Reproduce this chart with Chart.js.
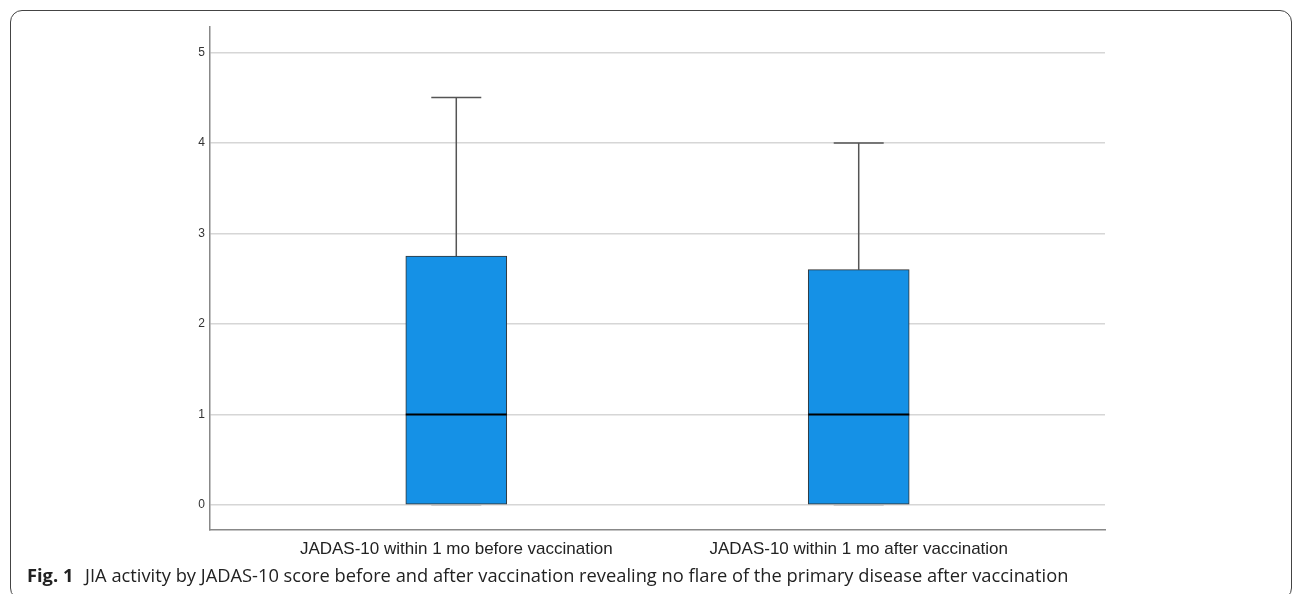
<!DOCTYPE html>
<html><head><meta charset="utf-8">
<script src="https://cdn.jsdelivr.net/npm/chart.js@4.4.0/dist/chart.umd.min.js"></script>
<style>
html,body{margin:0;padding:0;background:#fff;width:1293px;height:594px;overflow:hidden;}
#frame{position:absolute;left:10px;top:10px;width:1282px;height:590px;border:1.5px solid #444;border-radius:12px;box-sizing:border-box;}
#c{position:absolute;left:0;top:0;}
#cap{position:absolute;left:27px;top:566px;font-family:"Open Sans",sans-serif;font-size:18.3px;line-height:18px;color:#222;white-space:nowrap;}
#cap b{font-weight:700;margin-right:7px;}
</style></head>
<body>
<div id="frame"></div>
<canvas id="c" width="1293" height="594"></canvas>
<div id="cap"><b>Fig. 1</b> JIA activity by JADAS-10 score before and after vaccination revealing no flare of the primary disease after vaccination</div>
<script>
const categories = ['JADAS-10 within 1 mo before vaccination', 'JADAS-10 within 1 mo after vaccination'];
const minValues = [0, 0];
const q1Values = [0, 0];
const medianValues = [1, 1];
const q3Values = [2.75, 2.6];
const maxValues = [4.5, 4.0];
const yTicks = [0, 1, 2, 3, 4, 5];

const boxWidthPx = 101;
const capWidthPx = 50;

const whiskerPlugin = {
  id: 'whiskers',
  beforeDatasetsDraw(chart) {
    const {ctx, scales: {x, y}} = chart;
    ctx.save();
    ctx.strokeStyle = '#555';
    ctx.lineWidth = 1.5;
    categories.forEach((c, i) => {
      const px = x.getPixelForValue(i + 1);
      ctx.beginPath();
      ctx.moveTo(px, y.getPixelForValue(maxValues[i]));
      ctx.lineTo(px, y.getPixelForValue(q3Values[i]));
      ctx.moveTo(px, y.getPixelForValue(q1Values[i]));
      ctx.lineTo(px, y.getPixelForValue(minValues[i]));
      ctx.moveTo(px - capWidthPx / 2, y.getPixelForValue(maxValues[i]));
      ctx.lineTo(px + capWidthPx / 2, y.getPixelForValue(maxValues[i]));
      ctx.stroke();
    });
    ctx.restore();
  },
  afterDatasetsDraw(chart) {
    const {ctx, scales: {x, y}} = chart;
    ctx.save();
    categories.forEach((c, i) => {
      const px = x.getPixelForValue(i + 1);
      ctx.strokeStyle = '#aaa';
      ctx.lineWidth = 1;
      ctx.beginPath();
      ctx.moveTo(px - capWidthPx / 2, y.getPixelForValue(minValues[i]));
      ctx.lineTo(px + capWidthPx / 2, y.getPixelForValue(minValues[i]));
      ctx.stroke();
      ctx.strokeStyle = '#000';
      ctx.lineWidth = 2;
      ctx.beginPath();
      ctx.moveTo(px - boxWidthPx / 2, y.getPixelForValue(medianValues[i]));
      ctx.lineTo(px + boxWidthPx / 2, y.getPixelForValue(medianValues[i]));
      ctx.stroke();
    });
    ctx.restore();
  }
};

new Chart(document.getElementById('c'), {
  type: 'bar',
  data: {
    datasets: [{
      data: categories.map((c, i) => ({x: i + 1, y: [q1Values[i], q3Values[i]]})),
      backgroundColor: '#1591e6',
      borderColor: '#333',
      borderWidth: 1,
      borderSkipped: false,
      barThickness: boxWidthPx
    }]
  },
  plugins: [whiskerPlugin],
  options: {
    responsive: false,
    animation: false,
    devicePixelRatio: 1,
    layout: {padding: {left: 0, right: 188, top: 27, bottom: 0}},
    plugins: {legend: {display: false}, tooltip: {enabled: false}},
    scales: {
      x: {
        type: 'linear',
        offset: false,
        min: 0.388,
        max: 2.612,
        afterBuildTicks: s => { s.ticks = categories.map((c, i) => ({value: i + 1})); },
        afterFit: s => { s.height = 64; },
        grid: {display: false, drawTicks: false, offset: false},
        border: {display: true, color: '#888', width: 1.5},
        ticks: {
          callback: v => categories[v - 1] || '',
          font: {family: '"Liberation Sans", Arial, sans-serif', size: 17},
          color: '#222',
          padding: 9,
          maxRotation: 0,
          autoSkip: false
        }
      },
      y: {
        min: -0.276,
        max: 5.28,
        afterBuildTicks: s => { s.ticks = yTicks.map(v => ({value: v})); },
        afterFit: s => { s.width = 210; },
        grid: {color: '#d6d6d6', lineWidth: 1.5, drawTicks: false},
        border: {display: true, color: '#888', width: 1.5},
        ticks: {
          font: {family: '"Liberation Sans", Arial, sans-serif', size: 12},
          color: '#333',
          padding: 5
        }
      }
    }
  }
});
</script>
</body></html>
